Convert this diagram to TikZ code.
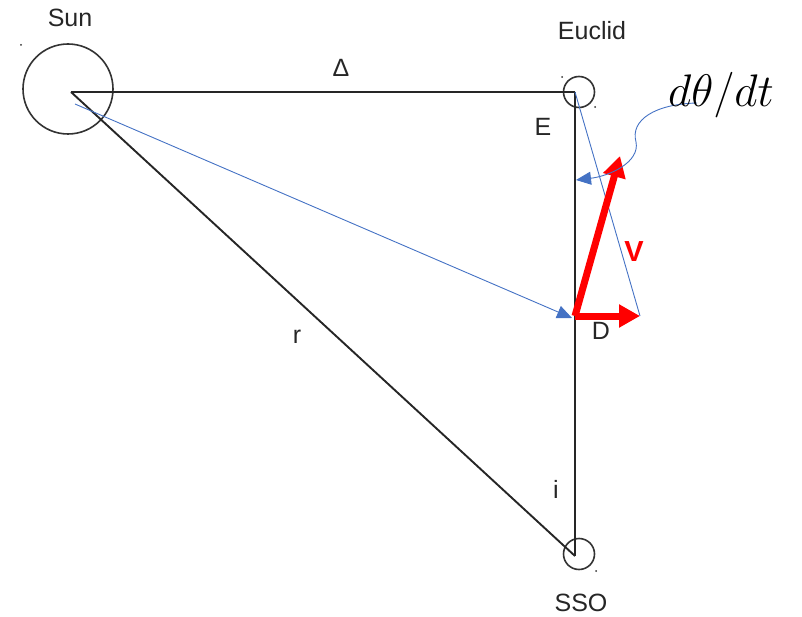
\documentclass[tikz,border=0pt]{standalone}
\usepackage{fontspec}
\setmainfont{Liberation Sans}
\usetikzlibrary{arrows.meta}
\definecolor{offblue}{RGB}{68,114,196}
\begin{document}
\begin{tikzpicture}[x=1pt,y=-1pt,
  lbl/.style={font=\fontsize{25}{28}\selectfont, text=black!85, inner sep=0pt},
  body/.style={draw=black!80, line width=1.6pt},
  edge/.style={draw=black!85, line width=1.9pt},
  blueline/.style={draw=offblue, line width=0.9pt},
  bluearrow/.style={blueline, -{Triangle[length=15pt,width=13pt]}},
  redarrow/.style={draw=red, line width=7pt, -{Triangle[length=21pt,width=22pt]}},
  dotmark/.style={fill=black!80, circle, inner sep=0pt, minimum size=2pt}
]
\useasboundingbox (0,0) rectangle (802,617);
% bodies
\node[body, circle, minimum size=90pt, inner sep=0pt] (sun) at (68,89) {};
\node[body, circle, minimum size=31pt, inner sep=0pt] (euc) at (579,92) {};
\node[body, circle, minimum size=31pt, inner sep=0pt] (sso) at (579,554) {};
\coordinate (S) at (71,92);
\coordinate (E) at (575,92);
\coordinate (O) at (575,556);
\coordinate (D) at (575,316);
\coordinate (Vt) at (620,156);
\coordinate (Ht) at (640,316);
\coordinate (Sb) at (75,104);
\coordinate (Da) at (572,318);
% tiny dots
\node[dotmark] (d1) at (21,45) {};
\node[dotmark] (d2) at (562,77) {};
\node[dotmark] (d3) at (595,107) {};
\node[dotmark] (d4) at (596,571) {};
% triangle edges
\draw[edge] (S) -- (E);
\draw[edge] (E) -- (O);
\draw[edge] (S) -- (O);
% blue lines
\draw[bluearrow] (Sb) -- (Da);
\draw[blueline] (E) -- (Ht);
% red arrows
\draw[redarrow] (D) -- (Vt);
\draw[redarrow] (D) -- (Ht);
% callout
\coordinate (cs) at (697,103);
\coordinate (ct) at (576,180);
\draw[bluearrow] (cs) .. controls (655,104) and (630,120) .. (636,142)
  .. controls (640,162) and (610,176) .. (ct);
% labels
\node[lbl] (lsun) at (70,18) {Sun};
\node[lbl] (leuc) at (592,31) {Euclid};
\node[lbl] (ldel) at (341,68) {Δ};
\node[lbl] (lE) at (543,127) {E};
\node[lbl, text=red, font=\fontsize{29}{31}\selectfont\bfseries] (lV) at (634,252) {V};
\node[lbl] (lD) at (601,331) {D};
\node[lbl] (lr) at (297,337) {r};
\node[lbl] (li) at (556,489) {i};
\node[lbl] (lsso) at (581,603) {SSO};
\node[inner sep=0pt, font=\fontsize{20}{22}\selectfont] (ldt) at (721,95) {\scalebox{2.2}{$d\theta/dt$}};
\end{tikzpicture}
\end{document}
